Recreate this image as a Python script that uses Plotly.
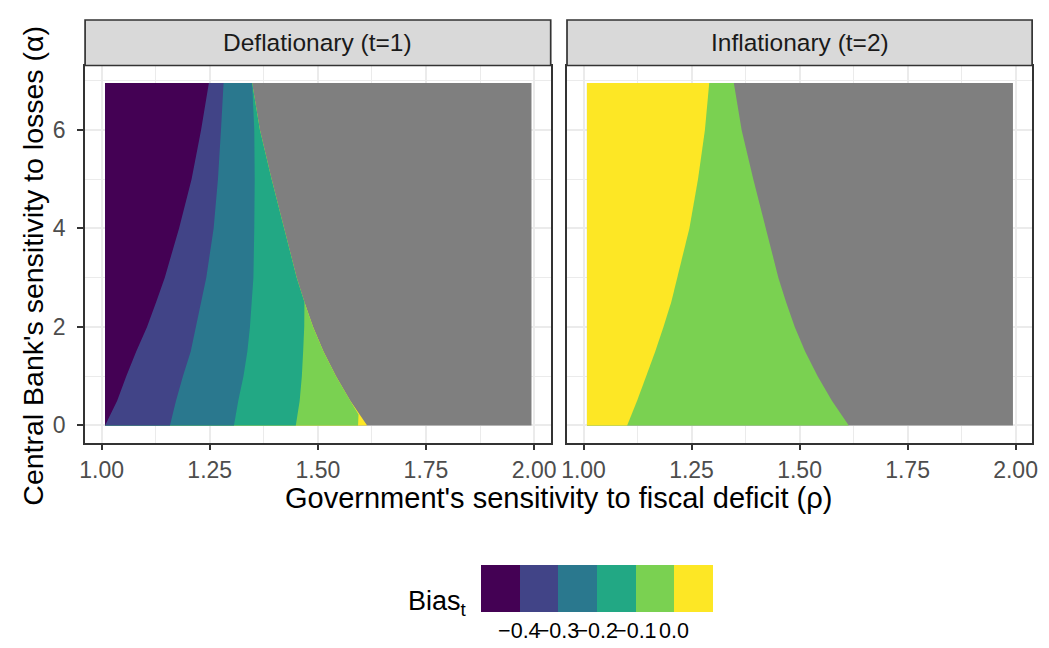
import plotly.graph_objects as go

# ---- data -------------------------------------------------------------
# alpha levels at which the bin boundaries were traced
ALPHA = [0.0, 0.5, 1.0, 1.5, 2.0, 2.5, 3.0, 4.0, 5.0, 6.0, 6.95]

# extent of the computed (rho, alpha) grid
RHO_LO, RHO_HI = 1.008, 1.994
ALPHA_LO, ALPHA_HI = 0.0, 6.95

# rho beyond which the bias is undefined (same in both periods)
NA_EDGE = [1.614, 1.575, 1.542, 1.513, 1.489, 1.469, 1.451, 1.422, 1.393, 1.366, 1.348]

# Deflationary period (t=1): contour of Bias_t at each break
DEFL_B040 = [1.009, 1.036, 1.057, 1.080, 1.105, 1.126, 1.146, 1.179, 1.208, 1.230, 1.248]
DEFL_B030 = [1.158, 1.172, 1.188, 1.206, 1.218, 1.230, 1.242, 1.259, 1.269, 1.276, 1.282]
DEFL_B020 = [1.306, 1.316, 1.328, 1.337, 1.343, 1.347, 1.351, 1.353, 1.354, 1.353, 1.348]
DEFL_B010_ALPHA = [0.0, 0.5, 1.0, 1.5, 2.0, 2.5]
DEFL_B010 = [1.449, 1.458, 1.463, 1.466, 1.4685, 1.469]
DEFL_B000_ALPHA = [0.0, 0.22]
DEFL_B000 = [1.593, 1.594]

# Inflationary period (t=2): contour of Bias_t = 0
INFL_B000 = [1.101, 1.124, 1.145, 1.166, 1.185, 1.203, 1.218, 1.245, 1.265, 1.281, 1.291]

# binned legend
BIN_BREAKS = [-0.4, -0.3, -0.2, -0.1, 0.0]
BIN_LABELS = ["\u22120.4", "\u22120.3", "\u22120.2", "\u22120.1", "0.0"]
BIN_COLORS = ["#440154", "#414487", "#2A788E", "#22A884", "#7AD151", "#FDE725"]
NA_COLOR = "#7F7F7F"

FACETS = ["Deflationary (t=1)", "Inflationary (t=2)"]
X_TITLE = "Government's sensitivity to fiscal deficit (\u03c1)"
Y_TITLE = "Central Bank's sensitivity to losses (\u03b1)"
X_TICKS = [1.00, 1.25, 1.50, 1.75, 2.00]
Y_TICKS = [0, 2, 4, 6]

# ---- helpers -----------------------------------------------------------
FONT = "Liberation Sans, Arial, Helvetica, sans-serif"
W, H = 1049, 648


def px_x(p):
    return p / W


def px_y(p):
    return 1 - p / H


def region(rho, alpha, color, ax):
    """Area between the left edge of the grid and a boundary curve."""
    pts = sorted(zip(alpha, rho), reverse=True)  # top -> bottom
    xs = [RHO_LO] + [r for a, r in pts] + [RHO_LO]
    ys = [pts[0][0]] + [a for a, r in pts] + [pts[-1][0]]
    return go.Scatter(
        x=xs, y=ys, mode="lines", fill="toself", fillcolor=color,
        line=dict(width=0, color=color), hoverinfo="skip", showlegend=False,
        xaxis="x" + ax, yaxis="y" + ax,
    )


def full_grid(color, ax):
    return go.Scatter(
        x=[RHO_LO, RHO_HI, RHO_HI, RHO_LO, RHO_LO],
        y=[ALPHA_LO, ALPHA_LO, ALPHA_HI, ALPHA_HI, ALPHA_LO],
        mode="lines", fill="toself", fillcolor=color,
        line=dict(width=0, color=color), hoverinfo="skip", showlegend=False,
        xaxis="x" + ax, yaxis="y" + ax,
    )


fig = go.Figure()

# ---- panel 1: deflationary ---------------------------------------------
fig.add_trace(full_grid(NA_COLOR, ""))
fig.add_trace(region(NA_EDGE, ALPHA, BIN_COLORS[5], ""))
lg_a = [a for a in ALPHA if a > DEFL_B000_ALPHA[-1]] + DEFL_B000_ALPHA
lg_r = [r for a, r in zip(ALPHA, NA_EDGE) if a > DEFL_B000_ALPHA[-1]] + DEFL_B000
fig.add_trace(region(lg_r, lg_a, BIN_COLORS[4], ""))
gt_a = [a for a in ALPHA if a > DEFL_B010_ALPHA[-1]] + DEFL_B010_ALPHA
gt_r = [r for a, r in zip(ALPHA, NA_EDGE) if a > DEFL_B010_ALPHA[-1]] + DEFL_B010
fig.add_trace(region(gt_r, gt_a, BIN_COLORS[3], ""))
fig.add_trace(region(DEFL_B020, ALPHA, BIN_COLORS[2], ""))
fig.add_trace(region(DEFL_B030, ALPHA, BIN_COLORS[1], ""))
fig.add_trace(region(DEFL_B040, ALPHA, BIN_COLORS[0], ""))

# ---- panel 2: inflationary ---------------------------------------------
fig.add_trace(full_grid(NA_COLOR, "2"))
fig.add_trace(region(NA_EDGE, ALPHA, BIN_COLORS[4], "2"))
fig.add_trace(region(INFL_B000, ALPHA, BIN_COLORS[5], "2"))

# ---- binned colour bar -------------------------------------------------
n = len(BIN_COLORS)
cmin = BIN_BREAKS[0] - 0.1
cmax = BIN_BREAKS[-1] + 0.1
scale = []
for i, c in enumerate(BIN_COLORS):
    scale += [[i / n, c], [(i + 1) / n, c]]
fig.add_trace(go.Scatter(
    x=[None], y=[None], mode="markers", hoverinfo="skip", showlegend=False,
    marker=dict(
        color=[cmin], cmin=cmin, cmax=cmax, colorscale=scale, showscale=True,
        colorbar=dict(
            orientation="h", thickness=47, len=232, lenmode="pixels",
            x=px_x(597.5), xanchor="center", y=px_y(565), yanchor="top",
            xpad=0, ypad=0, outlinewidth=0, ticks="", tickangle=0,
            tickvals=BIN_BREAKS, ticktext=BIN_LABELS,
            tickfont=dict(family=FONT, size=21.5, color="#000000"),
        ),
    ),
))

# ---- axes --------------------------------------------------------------
X_DOMAINS = [[px_x(80), px_x(551)], [px_x(567.5), px_x(1038)]]
Y_DOMAIN = [px_y(442.5), px_y(66)]

axis_common = dict(
    showline=True, mirror=True, linecolor="#333333", linewidth=1.7,
    showgrid=True, gridcolor="#EBEBEB", gridwidth=1.7, zeroline=False,
    ticks="outside", ticklen=6, tickwidth=1.7, tickcolor="#333333",
    tickfont=dict(family=FONT, size=23, color="#4D4D4D"),
)
xcommon = dict(axis_common, range=[0.9618, 2.0384], tickvals=X_TICKS,
               ticktext=["%.2f" % v for v in X_TICKS],
               minor=dict(showgrid=True, gridcolor="#EBEBEB", gridwidth=0.9,
                          dtick=0.125, tick0=1.0))
ycommon = dict(axis_common, range=[-0.3475, 7.2975], tickvals=Y_TICKS,
               minor=dict(showgrid=True, gridcolor="#EBEBEB", gridwidth=0.9,
                          dtick=1, tick0=0))

fig.update_layout(
    xaxis=dict(xcommon, domain=X_DOMAINS[0], anchor="y"),
    yaxis=dict(ycommon, domain=Y_DOMAIN, anchor="x", ticklabelstandoff=7),
    xaxis2=dict(xcommon, domain=X_DOMAINS[1], anchor="y2"),
    yaxis2=dict(ycommon, domain=Y_DOMAIN, anchor="x2", showticklabels=False,
                ticks=""),
)

# ---- facet strips ------------------------------------------------------
shapes = []
annotations = []
for dom, label in zip(X_DOMAINS, FACETS):
    shapes.append(dict(type="rect", xref="paper", yref="paper",
                       x0=dom[0], x1=dom[1], y0=px_y(65.5), y1=px_y(20),
                       fillcolor="#D9D9D9", line=dict(color="#333333", width=1.7),
                       layer="above"))
    annotations.append(dict(text=label, xref="paper", yref="paper",
                            x=(dom[0] + dom[1]) / 2, y=px_y(43),
                            xanchor="center", yanchor="middle", showarrow=False,
                            font=dict(family=FONT, size=24.5, color="#1A1A1A")))

annotations.append(dict(text=X_TITLE, xref="paper", yref="paper",
                        x=px_x(559), y=px_y(498), xanchor="center", yanchor="middle",
                        showarrow=False, font=dict(family=FONT, size=29, color="#000000")))
annotations.append(dict(text=Y_TITLE, xref="paper", yref="paper", textangle=-90,
                        x=px_x(27), y=px_y(266), xanchor="center", yanchor="middle",
                        showarrow=False, font=dict(family=FONT, size=28.5, color="#000000")))
annotations.append(dict(text="Bias<sub>t</sub>", xref="paper", yref="paper",
                        x=px_x(405), y=px_y(603), xanchor="left", yanchor="middle",
                        showarrow=False, font=dict(family=FONT, size=27, color="#000000")))

fig.update_layout(
    width=W, height=H, margin=dict(l=0, r=0, t=0, b=0),
    paper_bgcolor="white", plot_bgcolor="white", showlegend=False,
    shapes=shapes, annotations=annotations,
    font=dict(family=FONT),
)

fig.write_html("out.html")
